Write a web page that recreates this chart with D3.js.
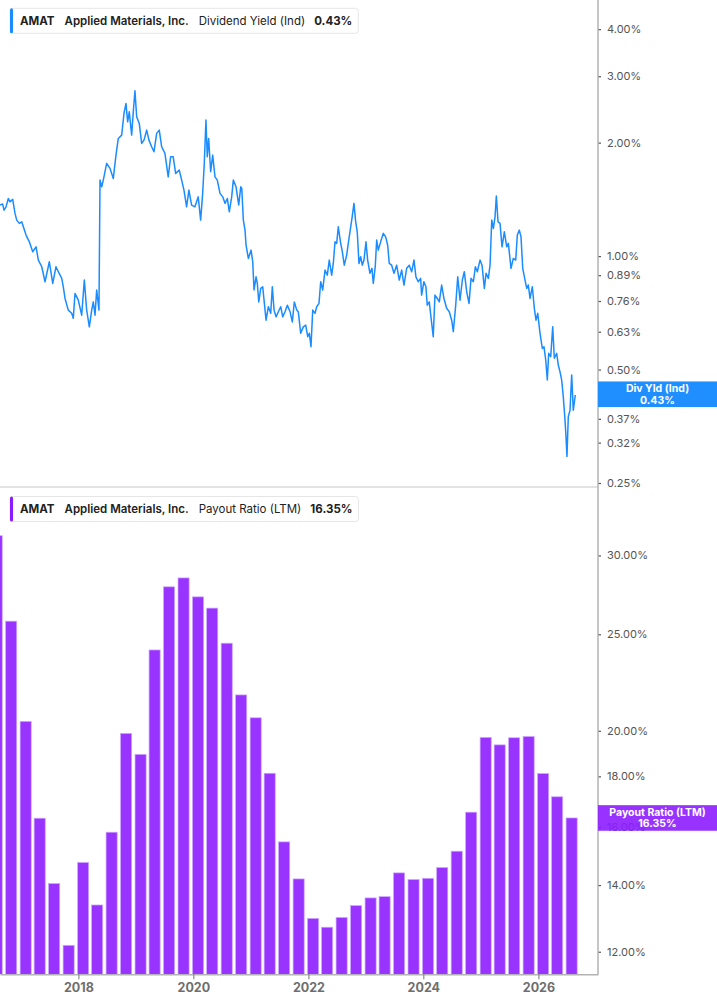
<!DOCTYPE html>
<html><head><meta charset="utf-8">
<script src="https://cdn.jsdelivr.net/npm/d3@7"></script>
<style>
html,body{margin:0;padding:0;background:#fff;}
svg{display:block;font-family:Inter,"Noto Sans",sans-serif;}
</style></head><body>
<svg id="chart" width="717" height="1005"></svg>
<script>
// ---------- data ----------
const ticker = "AMAT";
const company = "Applied Materials, Inc.";
const yieldLabel = "Dividend Yield (Ind)";
const payoutLabel = "Payout Ratio (LTM)";
const xTickYears = [2018, 2020, 2022, 2024, 2026];
const yieldTicks = [4, 3, 2, 1, 0.89, 0.76, 0.63, 0.5, 0.37, 0.32, 0.25];
const payoutTicks = [30, 25, 20, 18, 16, 14, 12];

// [decimal year, dividend yield %]
const yieldSeries = [
[2016.636,1.366],[2016.683,1.374],[2016.706,1.324],[2016.741,1.351],[2016.781,1.422],[2016.810,1.393],[2016.857,1.414],[2016.897,1.298],[2016.927,1.246],[2016.972,1.221],
[2017.014,1.233],[2017.042,1.196],[2017.089,1.137],[2017.146,1.091],[2017.205,1.027],[2017.263,1.058],[2017.303,0.976],[2017.362,0.937],[2017.419,0.855],[2017.494,0.966],
[2017.553,0.846],[2017.610,0.937],[2017.650,0.909],[2017.710,0.873],[2017.737,0.829],[2017.767,0.772],[2017.824,0.719],[2017.883,0.705],[2017.911,0.684],[2017.941,0.796],
[2017.998,0.764],[2018.057,0.697],[2018.103,0.864],[2018.144,0.719],[2018.190,0.649],[2018.231,0.719],[2018.259,0.756],[2018.289,0.697],[2018.318,0.813],[2018.358,0.719],
[2018.376,1.591],[2018.405,1.527],[2018.433,1.591],[2018.492,1.762],[2018.550,1.709],[2018.607,1.607],[2018.654,1.853],[2018.694,2.052],[2018.753,2.094],[2018.793,2.390],
[2018.828,2.541],[2018.857,2.271],[2018.885,2.414],[2018.927,2.094],[2018.955,2.414],[2018.984,2.745],[2019.014,2.342],[2019.059,2.249],[2019.101,1.990],[2019.141,2.031],
[2019.188,2.159],[2019.228,2.031],[2019.275,1.950],[2019.315,1.891],[2019.362,2.116],[2019.407,2.159],[2019.449,1.950],[2019.506,1.873],[2019.563,1.623],[2019.605,1.834],
[2019.650,1.834],[2019.692,1.657],[2019.755,1.691],[2019.797,1.591],[2019.837,1.497],[2019.883,1.351],[2019.923,1.497],[2019.970,1.366],[2020.028,1.351],[2020.085,1.436],
[2020.127,1.246],[2020.162,1.467],[2020.190,1.762],[2020.219,2.295],[2020.242,1.834],[2020.266,2.052],[2020.301,1.674],[2020.336,1.853],[2020.376,1.623],[2020.416,1.591],
[2020.463,1.467],[2020.510,1.436],[2020.550,1.380],[2020.590,1.422],[2020.624,1.311],[2020.666,1.436],[2020.694,1.591],[2020.741,1.527],[2020.788,1.366],[2020.823,1.527],
[2020.841,1.512],[2020.868,1.246],[2020.897,1.172],[2020.915,1.070],[2020.955,0.986],[2021.002,1.037],[2021.031,0.966],[2021.054,0.813],[2021.089,0.881],[2021.111,0.846],
[2021.136,0.756],[2021.170,0.821],[2021.205,0.829],[2021.228,0.764],[2021.263,0.676],[2021.303,0.734],[2021.344,0.705],[2021.372,0.829],[2021.402,0.719],[2021.437,0.690],
[2021.477,0.712],[2021.518,0.734],[2021.553,0.690],[2021.593,0.712],[2021.633,0.741],[2021.680,0.712],[2021.720,0.669],[2021.755,0.756],[2021.797,0.719],[2021.824,0.712],
[2021.866,0.624],[2021.911,0.649],[2021.953,0.656],[2021.988,0.611],[2022.016,0.624],[2022.045,0.575],[2022.075,0.719],[2022.115,0.705],[2022.144,0.734],[2022.184,0.749],
[2022.214,0.855],[2022.249,0.813],[2022.289,0.918],[2022.329,0.890],[2022.363,0.976],[2022.405,0.890],[2022.433,0.956],[2022.463,1.091],[2022.492,1.081],[2022.520,1.196],
[2022.562,1.081],[2022.590,1.027],[2022.624,0.946],[2022.666,1.006],[2022.694,1.081],[2022.723,1.160],[2022.758,1.259],[2022.793,1.380],[2022.823,1.233],[2022.850,1.160],
[2022.880,0.956],[2022.910,0.996],[2022.937,0.946],[2022.967,0.976],[2023.002,1.091],[2023.031,0.976],[2023.071,0.900],[2023.106,0.928],[2023.129,0.846],[2023.163,0.937],
[2023.188,1.103],[2023.216,1.037],[2023.257,1.091],[2023.303,1.149],[2023.344,1.125],[2023.379,1.070],[2023.407,0.956],[2023.449,0.946],[2023.489,0.900],[2023.536,0.946],
[2023.581,0.864],[2023.623,0.918],[2023.663,0.838],[2023.710,0.928],[2023.755,0.946],[2023.797,0.909],[2023.837,0.976],[2023.871,0.881],[2023.911,0.855],[2023.953,0.873],
[2023.970,0.788],[2024.010,0.855],[2024.045,0.829],[2024.068,0.741],[2024.103,0.756],[2024.132,0.690],[2024.172,0.611],[2024.202,0.788],[2024.242,0.772],[2024.277,0.756],
[2024.318,0.838],[2024.358,0.772],[2024.405,0.727],[2024.450,0.712],[2024.492,0.676],[2024.520,0.630],[2024.562,0.741],[2024.597,0.881],[2024.637,0.764],[2024.677,0.864],
[2024.711,0.909],[2024.753,0.804],[2024.793,0.749],[2024.828,0.873],[2024.868,0.855],[2024.903,0.937],[2024.937,0.909],[2024.984,0.976],[2025.019,0.946],[2025.059,0.821],
[2025.089,0.900],[2025.129,0.873],[2025.158,0.946],[2025.188,1.246],[2025.216,1.184],[2025.245,1.271],[2025.268,1.443],[2025.297,1.233],[2025.332,1.221],[2025.367,1.058],
[2025.407,1.160],[2025.449,1.058],[2025.477,1.081],[2025.523,0.928],[2025.563,0.986],[2025.605,0.976],[2025.633,1.137],[2025.668,1.172],[2025.697,1.125],[2025.727,0.928],
[2025.767,0.864],[2025.797,0.821],[2025.824,0.838],[2025.854,0.772],[2025.894,0.829],[2025.929,0.727],[2025.958,0.676],[2025.988,0.705],[2026.028,0.624],[2026.068,0.569],
[2026.097,0.575],[2026.127,0.530],[2026.155,0.469],[2026.179,0.552],[2026.214,0.541],[2026.249,0.649],[2026.277,0.536],[2026.318,0.552],[2026.346,0.514],[2026.376,0.493],
[2026.405,0.469],[2026.433,0.423],[2026.463,0.367],[2026.480,0.332],[2026.497,0.294],[2026.520,0.375],[2026.550,0.390],[2026.579,0.484],[2026.607,0.390],[2026.642,0.428]
];
const yieldCurrent = 0.43;

const payoutDates = ["2016-07-31","2016-10-31","2017-01-31","2017-04-30","2017-07-31","2017-10-31","2018-01-31","2018-04-30","2018-07-31","2018-10-31",
"2019-01-31","2019-04-30","2019-07-31","2019-10-31","2020-01-31","2020-04-30","2020-07-31","2020-10-31","2021-01-31","2021-04-30",
"2021-07-31","2021-10-31","2022-01-31","2022-04-30","2022-07-31","2022-10-31","2023-01-31","2023-04-30","2023-07-31","2023-10-31",
"2024-01-31","2024-04-30","2024-07-31","2024-10-31","2025-01-31","2025-04-30","2025-07-31","2025-10-31","2026-01-31","2026-04-30","2026-07-31"];
const payoutValues = [31.4,25.77,20.44,16.34,14.05,12.18,14.75,13.37,15.82,19.88,
18.94,24.11,27.9,28.48,27.26,26.56,24.49,21.73,20.61,18.13,
15.47,14.2,12.96,12.70,12.99,13.35,13.59,13.63,14.4,14.18,
14.22,14.58,15.14,16.57,19.70,19.36,19.68,19.74,18.12,17.17,16.35];
const payoutCurrent = 16.35;

// ---------- layout ----------
const W = 717, H = 1005;
const plotRight = 598;
const topPane = [0, 487];
const botPane = [490, 974.3];
const blue = "#1a8cff", purple = "#9933ff", purpleDark = "#8c1cff";

function yearToDate(t){
  const y = Math.floor(t);
  const s = new Date(y,0,1), e = new Date(y+1,0,1);
  return new Date(+s + (t - y) * (e - s));
}
const parseDate = d3.timeParse("%Y-%m-%d");

const svg = d3.select("#chart");

const x = d3.scaleTime()
  .domain([yearToDate(2016.6365), yearToDate(2027.037)])
  .range([0, plotRight]);
const yTop = d3.scaleLog().domain([0.244, 4.78]).range([topPane[1], topPane[0]]);
const yBot = d3.scaleLog().domain([11.39, 34.9]).range([botPane[1], botPane[0]]);

const defs = svg.append("defs");
defs.append("clipPath").attr("id","clipTop").append("rect")
  .attr("x",0).attr("y",topPane[0]).attr("width",plotRight).attr("height",topPane[1]-topPane[0]);
defs.append("clipPath").attr("id","clipBot").append("rect")
  .attr("x",0).attr("y",topPane[1]).attr("width",plotRight).attr("height",botPane[1]-topPane[1]);

// separator between panes
svg.append("line").attr("x1",0).attr("x2",plotRight).attr("y1",topPane[1]).attr("y2",topPane[1])
  .attr("stroke","#e3e3e3").attr("stroke-width",2);

// ---------- bars ----------
const barData = payoutDates.map((d,i)=>({date: parseDate(d), value: payoutValues[i]}));
const step = x(barData[1].date) - x(barData[0].date);
const bw = step * 0.766;
svg.append("g").attr("clip-path","url(#clipBot)")
  .selectAll("rect").data(barData).join("rect")
  .attr("x", d => x(d.date) - bw/2)
  .attr("width", bw)
  .attr("y", d => yBot(d.value))
  .attr("height", d => yBot.range()[0] - yBot(d.value))
  .attr("fill", purple)
  .attr("stroke", "#cfa6ff")
  .attr("stroke-width", 0.7);

// ---------- line ----------
const line = d3.line().x(d => x(yearToDate(d[0]))).y(d => yTop(d[1]));
svg.append("g").attr("clip-path","url(#clipTop)")
  .append("path").datum(yieldSeries)
  .attr("d", line).attr("fill","none")
  .attr("stroke", blue).attr("stroke-width",1.5).attr("stroke-linejoin","round");

// ---------- axes ----------
const fmtPct = d => d.toFixed(2) + "%";
function styleRightAxis(g){
  g.select(".domain").remove();
  g.selectAll(".tick line").attr("stroke","#555").attr("stroke-width",1.2);
  g.selectAll(".tick text").attr("fill","#555").attr("font-size",11).attr("font-family","Inter, sans-serif");
}
svg.append("g").attr("transform",`translate(${plotRight},0)`)
  .call(d3.axisRight(yTop).tickValues(yieldTicks).tickFormat(fmtPct).tickSize(3).tickPadding(6))
  .call(styleRightAxis);
svg.append("g").attr("transform",`translate(${plotRight},0)`)
  .call(d3.axisRight(yBot).tickValues(payoutTicks).tickFormat(fmtPct).tickSize(3).tickPadding(6))
  .call(styleRightAxis);

// right vertical axis line
svg.append("line").attr("x1",plotRight).attr("x2",plotRight).attr("y1",0).attr("y2",botPane[1])
  .attr("stroke","#b3b3b3").attr("stroke-width",1.5);

// bottom axis
const xAxisG = svg.append("g").attr("transform",`translate(0,${botPane[1]})`)
  .call(d3.axisBottom(x).tickValues(xTickYears.map(y=>new Date(y,0,1)))
    .tickFormat(d3.timeFormat("%Y")).tickSize(5).tickSizeOuter(0).tickPadding(4));
xAxisG.select(".domain").attr("stroke","#b3b3b3").attr("stroke-width",1.5);
xAxisG.selectAll(".tick line").attr("stroke","#777");
xAxisG.selectAll(".tick text").attr("fill","#6e6e6e").attr("font-size",12.5)
  .attr("font-weight",700).attr("font-family","Inter, sans-serif");

// ---------- current value labels ----------
function valueBox(yPos, color, l1, l2, opacity){
  const h = 25.6;
  const g = svg.append("g");
  g.append("rect").attr("x",plotRight).attr("y",yPos - h/2).attr("width",W - plotRight).attr("height",h)
    .attr("fill",color).attr("fill-opacity",opacity);
  const cx = plotRight + (W - plotRight)/2;
  g.append("text").attr("x",cx).attr("y",yPos - 5.8).attr("text-anchor","middle").attr("dy","0.35em")
    .attr("fill","#fff").attr("font-size",10.5).attr("font-weight",700).text(l1);
  g.append("text").attr("x",cx).attr("y",yPos + 5.6).attr("text-anchor","middle").attr("dy","0.35em")
    .attr("fill","#fff").attr("font-size",10.5).attr("font-weight",700).text(l2);
}
valueBox(yTop(yieldCurrent), "#1f8fff", "Div Yld (Ind)", fmtPct(yieldCurrent), 1);
valueBox(yBot(payoutCurrent), purpleDark, payoutLabel, fmtPct(payoutCurrent), 0.9);

// ---------- legends ----------
function legend(yPos, color, metric, valueText){
  const g = svg.append("g").attr("transform",`translate(10,${yPos})`);
  const h = 25;
  const bg = g.append("rect").attr("x",0).attr("y",0).attr("height",h).attr("rx",3)
    .attr("fill","#fff").attr("stroke","#e6e6e6").attr("stroke-width",1);
  const parts = [
    {t: ticker, w: 700, gap: 10},
    {t: company, w: 600, gap: 10},
    {t: metric, w: 400, gap: 9},
    {t: valueText, w: 700, gap: 0}
  ];
  let cx = 10;
  parts.forEach(p => {
    const t = g.append("text").attr("x",cx).attr("y",16.8).attr("font-size",11.5)
      .attr("font-weight",p.w).attr("fill","#222").text(p.t);
    cx += t.node().getComputedTextLength() + p.gap;
  });
  bg.attr("width", cx + 6);
  g.append("rect").attr("x",0).attr("y",0).attr("width",3).attr("height",h).attr("rx",1.5).attr("fill",color);
}
legend(8.3, blue, yieldLabel, fmtPct(yieldCurrent));
legend(496.5, purpleDark, payoutLabel, fmtPct(payoutCurrent));
</script>
</body></html>
